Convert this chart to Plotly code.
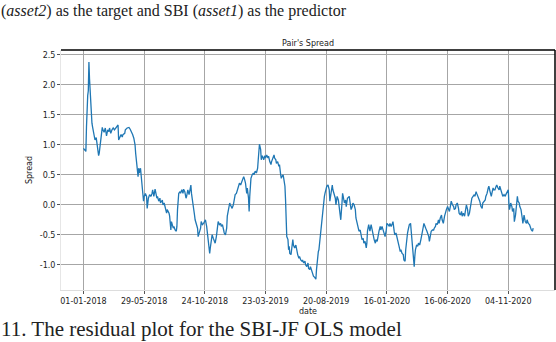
import plotly.graph_objects as go

# trading-day index (rows of the price table) and the spread
day = [0, 2, 4, 5, 6, 7, 8, 9, 10, 11, 12, 13, 14, 15, 17, 19, 21, 22, 24, 25, 26, 28, 29, 31, 32, 34, 36, 38, 40, 42,
       43, 45, 47, 49, 51, 53, 55, 57, 58, 60, 62, 64, 65, 68, 69, 72, 75, 77, 79, 81, 83, 85, 86, 87, 88, 90, 91, 92, 94, 95,
       97, 98, 99, 100, 102, 104, 105, 107, 109, 111, 113, 114, 116, 118, 119, 121, 122, 124, 126, 127, 130, 131, 133,
       137, 138, 141, 142, 144, 145, 146, 148, 149, 151, 153, 154, 155, 156, 157, 159, 160, 162, 164, 165, 167, 169, 170,
       172, 174, 175, 177, 178, 180, 181, 183, 184, 186, 188, 189, 191, 193, 194, 196, 198, 199, 201, 203, 204, 206, 208,
       209, 211, 212, 214, 216, 217, 219, 221, 222, 224, 226, 227, 229, 231, 232, 234, 236, 237, 239, 241, 242, 244, 245,
       247, 249, 250, 252, 254, 255, 257, 259, 260, 262, 264, 265, 267, 269, 270, 272, 273, 274, 275, 276, 278, 280, 281, 283,
       285, 287, 288, 289, 290, 292, 293, 294, 295, 297, 299, 300, 302, 304, 305, 307, 309, 310, 312, 314, 315, 317, 318,
       320, 322, 323, 325, 326, 327, 329, 330, 331, 332, 333, 334, 335, 337, 338, 339, 340, 342, 343, 345, 346, 348, 350,
       351, 353, 355, 356, 358, 360, 361, 363, 365, 366, 368, 370, 371, 373, 374, 376, 378, 379, 381, 383, 384, 385, 386,
       387, 388, 389, 390, 392, 393, 394, 395, 396, 397, 398, 400, 401, 403, 405, 406, 408, 410, 411, 413, 415, 416, 418,
       420, 421, 423, 424, 426, 427, 428, 430, 432, 433, 435, 437,
       438, 439, 441, 443, 444, 446, 448, 449, 451, 453, 454, 456, 457, 459, 461, 462, 464, 466, 467, 468, 470, 471, 472,
       474, 476, 477, 479, 481, 482, 484, 485, 487, 489, 490, 492, 494, 495, 497, 499, 500, 502, 504, 505, 507, 509, 510,
       512, 513, 515, 517, 518, 520, 522, 523, 525, 527, 528, 530, 531, 533, 534, 535, 537, 539, 540, 541, 542, 543, 544,
       545, 546, 547, 549, 551, 552, 554, 556, 557, 559, 561, 562, 564, 566, 567, 569, 570, 572, 573, 575, 577, 578, 580,
       581, 583, 585, 586, 588, 590, 591, 593, 595, 596, 598, 600, 601, 603, 605, 606, 608, 610, 611, 613, 614, 616, 618,
       619, 621, 623, 624, 626, 628, 629, 631, 633, 634, 636, 638, 639, 640, 642, 644, 645, 647, 648, 650, 652, 653, 655,
       657, 658, 660, 662, 663, 665, 667, 668, 670, 672, 673, 675, 676, 678, 680, 681, 683, 685, 686, 688, 690, 691, 693,
       695, 696, 698, 700, 701, 702, 703, 704, 706, 707, 709, 710, 712, 713, 714, 715, 716, 718, 719, 721, 723, 724, 725,
       726, 728, 730, 731, 733, 735, 736, 738, 740, 741]

spread = [0.94, 0.92, 0.89, 1.30, 1.78, 1.82, 1.90, 2.38, 2.10, 1.85, 1.60, 1.42, 1.36, 1.30, 1.15, 1.08, 1.12, 1.03, 0.92,
          0.82, 0.86, 1.03, 1.19, 1.29, 1.25, 1.21, 1.28, 1.15, 1.25, 1.22, 1.28, 1.19, 1.25, 1.28, 1.25, 1.28, 1.31, 1.33,
          1.08, 1.14, 1.17, 1.13, 1.17, 1.19, 1.25, 1.28, 1.29, 1.26, 1.22, 1.17, 1.11, 1.00, 0.86, 0.75, 0.58, 0.47, 0.61,
          0.53, 0.61, 0.47, 0.25, 0.17, 0.06, 0.14, 0.19, 0.14, -0.06, 0.11, 0.17, 0.14, 0.19, 0.25, 0.14, 0.26, 0.19, 0.11,
          0.14, 0.06, 0.11, 0.03, 0.08, 0.00, 0.03,
          -0.14, -0.08, -0.14, -0.19, -0.42, -0.28, -0.31, -0.39, -0.36, -0.42, -0.44, -0.36, -0.08, 0.14, 0.19, 0.22, 0.19,
          0.25, 0.19, 0.26, 0.22, 0.11, 0.14, 0.25, 0.17, 0.22, 0.33, 0.19, 0.00, -0.08, -0.17, -0.25, -0.31, -0.39, -0.53,
          -0.44, -0.39, -0.28, -0.33, -0.31, -0.28, -0.25, -0.36, -0.44, -0.61, -0.81, -0.72, -0.61, -0.50, -0.56, -0.61,
          -0.64, -0.53, -0.36, -0.28, -0.33, -0.31, -0.36, -0.33, -0.42, -0.47, -0.50, -0.39, -0.19, -0.06, 0.03, 0.00,
          -0.03, -0.06, 0.00, 0.08, 0.17, 0.19, 0.25, 0.31, 0.36, 0.33, 0.36, 0.39, 0.47, 0.44, 0.36, 0.19, 0.28, 0.11,
          -0.11, 0.14, 0.36, 0.44, 0.50, 0.53, 0.50, 0.56,
          0.53, 0.61, 0.75, 0.97, 1.01, 0.92, 0.75, 0.81, 0.81, 0.75, 0.82, 0.78, 0.83, 0.78, 0.81, 0.72, 0.67, 0.72, 0.78,
          0.83, 0.78, 0.75, 0.69, 0.72, 0.64, 0.67, 0.50, 0.44, 0.47, 0.50, 0.44, 0.36, 0.31, 0.08, -0.42, -0.53, -0.58,
          -0.75, -0.69, -0.81, -0.83, -0.75, -0.58, -0.67, -0.72, -0.67, -0.75, -0.83, -0.89, -0.86, -0.92, -0.94, -0.92,
          -0.97, -0.94, -1.00, -1.03, -0.97, -1.06, -1.08, -1.03, -1.11, -1.17, -1.19, -1.21, -1.24, -1.08, -0.92, -0.86,
          -0.78, -0.75, -0.64, -0.53, -0.42, -0.31, -0.14, 0.03, 0.08, 0.14, 0.19, 0.25, 0.31, 0.33, 0.25, 0.06, 0.25, 0.33,
          0.25, 0.19, 0.11, 0.00, 0.14, 0.08, -0.03, -0.14, -0.25, 0.03, 0.19, 0.14, 0.03, 0.08, -0.03, 0.11, 0.14,
          0.14, 0.06, -0.08, -0.03, 0.03, 0.00, -0.08, -0.22, -0.31, -0.36, -0.44, -0.42, -0.50, -0.58, -0.56, -0.64, -0.61,
          -0.72, -0.64, -0.44, -0.33, -0.42, -0.44, -0.33, -0.44, -0.50, -0.58, -0.64, -0.58, -0.61, -0.53, -0.44, -0.36,
          -0.42, -0.36, -0.44, -0.50, -0.53, -0.42, -0.31, -0.33, -0.36, -0.31, -0.36, -0.31, -0.28, -0.44, -0.50, -0.47,
          -0.58, -0.64, -0.69, -0.78, -0.75, -0.81, -0.83, -0.92, -0.94, -0.75, -0.50, -0.47, -0.42, -0.33, -0.31, -0.44,
          -0.61, -0.69, -0.81, -0.97, -1.03, -0.86, -0.75, -0.67, -0.69, -0.64, -0.67, -0.58, -0.50, -0.42, -0.31, -0.33,
          -0.39, -0.44, -0.47, -0.53, -0.61, -0.50, -0.44, -0.42, -0.42, -0.39, -0.36,
          -0.31, -0.33, -0.25, -0.31, -0.22, -0.17, -0.25, -0.31, -0.19, -0.14, -0.08, -0.03, -0.06, -0.11, 0.00, 0.06, 0.00,
          -0.03, -0.08, -0.06, 0.00, 0.03, -0.06, -0.14, -0.17, -0.11, -0.19, -0.14, -0.19, -0.11, 0.00, -0.08, -0.19, -0.14,
          -0.03, 0.03, 0.11, 0.14, 0.17, 0.14, 0.22, 0.19, 0.14, 0.11, 0.06, -0.03, -0.06, 0.03, 0.06, 0.08, 0.14, 0.19,
          0.28, 0.31, 0.22, 0.14, 0.19, 0.28, 0.25, 0.25, 0.31, 0.33, 0.28, 0.25, 0.31, 0.25, 0.19, 0.14, 0.17, 0.14, 0.17,
          0.22, 0.25, 0.03, -0.08, -0.03, 0.03, -0.03, -0.11, -0.06, -0.28, -0.17, -0.03, 0.08, 0.14, 0.06, 0.03, -0.03,
          -0.08, -0.22, -0.31, -0.25, -0.17, -0.28, -0.31, -0.25, -0.31, -0.33, -0.36, -0.42, -0.44, -0.39]

# x tick positions (every 100 rows) and the dates printed under them
tick_rows = [0, 100, 200, 300, 400, 500, 600, 700]
tick_dates = ["01-01-2018", "29-05-2018", "24-10-2018", "23-03-2019",
              "20-08-2019", "16-01-2020", "16-06-2020", "04-11-2020"]
y_ticks = [-1.0, -0.5, 0.0, 0.5, 1.0, 1.5, 2.0, 2.5]
y_labels = ["-1.0", "-0.5", "0.0", "0.5", "1.0", "1.5", "2.0", "2.5"]

font = dict(family="DejaVu Sans", size=8, color="#222222")
grid = "#a6a6a6"

fig = go.Figure()
fig.add_trace(go.Scatter(x=day, y=spread, mode="lines",
                         line=dict(color="#1f77b4", width=1.3), showlegend=False))

fig.update_layout(
    template="none",
    width=556, height=342,
    margin=dict(l=61, r=1, t=50, b=52, autoexpand=False),
    paper_bgcolor="white", plot_bgcolor="white",
    font=font,
    title=dict(text="Pair's Spread", x=0.554, xanchor="center", y=0.874, yanchor="middle",
               font=dict(family="DejaVu Sans", size=8, color="#222222")),
)
fig.update_xaxes(range=[-37, 777], tickmode="array", tickvals=tick_rows, ticktext=tick_dates, automargin=False,
                 showgrid=True, gridcolor=grid, gridwidth=1, zeroline=False, layer="below traces",
                 showline=True, linecolor="#dddddd", ticks="outside", ticklen=3,
                 tickcolor="#555555", tickfont=font,
                 title=dict(text="date", font=font, standoff=3))
fig.update_yaxes(range=[-1.42, 2.58], tickmode="array", tickvals=y_ticks, ticktext=y_labels, automargin=False,
                 showgrid=True, gridcolor=grid, gridwidth=1, zeroline=False, layer="below traces",
                 showline=True, linecolor="#e6e6e6", ticks="outside", ticklen=3,
                 tickcolor="#555555", tickfont=font,
                 title=dict(text="Spread", font=font, standoff=5))

# top and right frame lines are dark in the original
fig.add_shape(type="line", xref="paper", yref="paper", x0=0, x1=1, y0=1, y1=1,
              line=dict(color="black", width=1.5))
fig.add_shape(type="line", xref="paper", yref="paper", x0=1, x1=1, y0=0, y1=1,
              line=dict(color="black", width=1.5))

# surrounding text from the page the figure was scanned from
fig.add_annotation(text="(<i>asset2</i>) as the target and SBI (<i>asset1</i>) as the predictor",
                   xref="paper", yref="paper", x=-0.125, y=1.208, xanchor="left", yanchor="top",
                   showarrow=False, font=dict(family="Liberation Serif", size=16, color="#222222"))
fig.add_annotation(text="11. The residual plot for the SBI-JF OLS model",
                   xref="paper", yref="paper", x=-0.125, y=-0.22, xanchor="left", yanchor="bottom",
                   showarrow=False, font=dict(family="Liberation Serif", size=21, color="#222222"))

# the page body has an 8px default margin; drop it so the figure sits at the window corner
fig.write_html("out.html", config={"displayModeBar": False},
               post_script="document.body.style.margin = '0px';")
